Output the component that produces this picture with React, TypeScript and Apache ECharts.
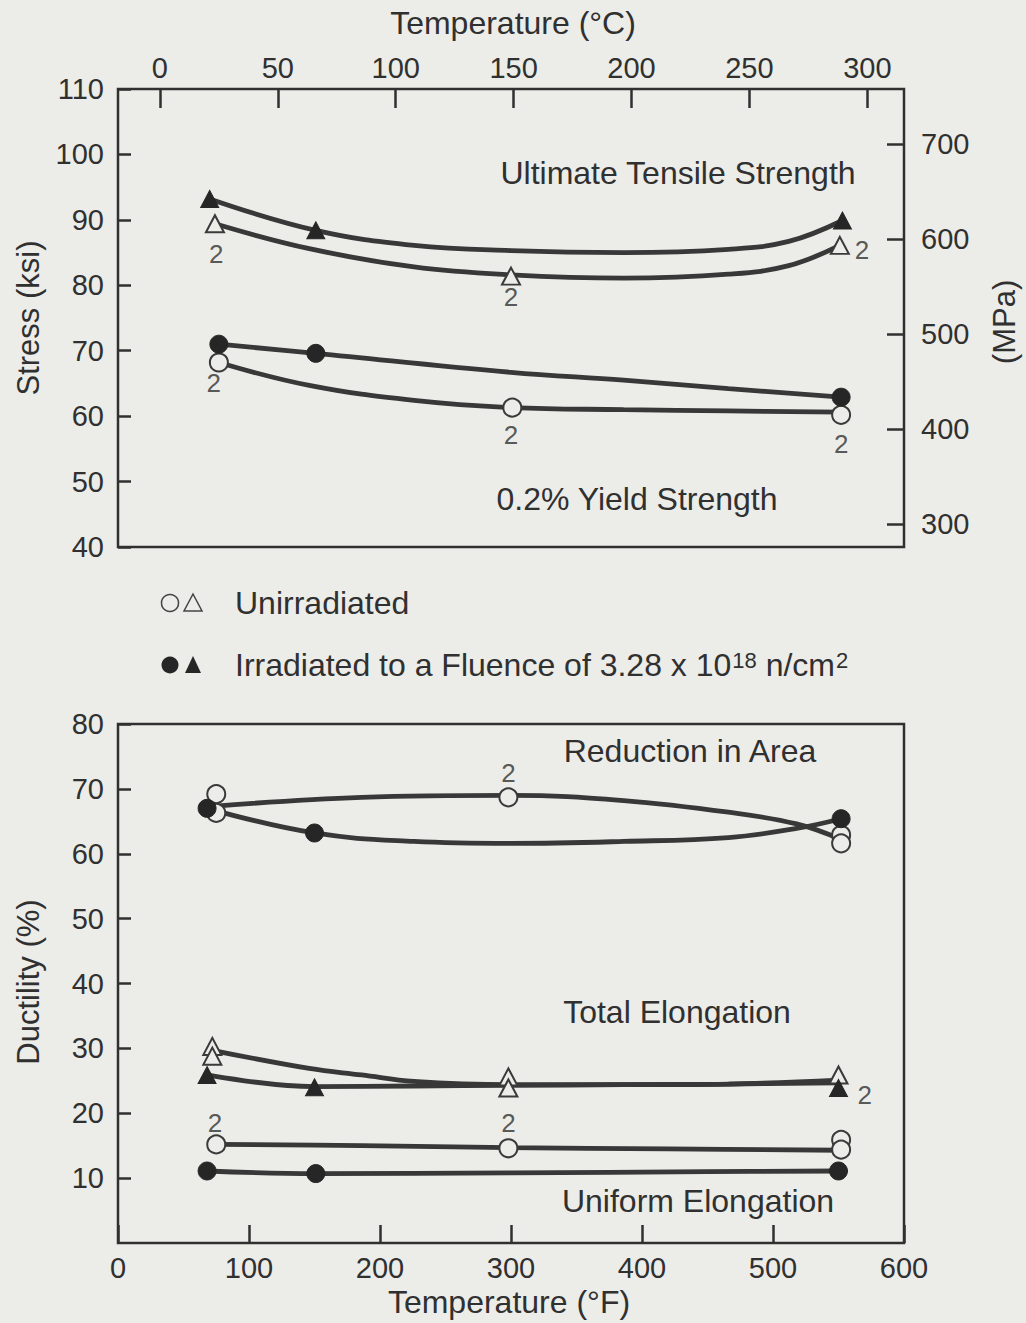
import React, { useEffect, useRef } from 'react';
import * as echarts from 'echarts';

const FONT = '"Liberation Sans", Arial, Helvetica, sans-serif';
const BG = '#ecece9';
const INK = '#303030';
const LINE = '#383838';
const FILL = '#262626';

// ---------- Axis ticks ----------
const degCTicks = [0, 50, 100, 150, 200, 250, 300];
const mpaTicks = [300, 400, 500, 600, 700];
const KSI_TO_MPA = 6.894757;

// ---------- Top panel: stress (ksi) vs temperature (°F) ----------
// Ultimate tensile strength, irradiated (filled triangles)
const utsIrrF = [70, 151, 553];
const utsIrrKsi = [93.2, 88.4, 89.9];
const utsIrrFitF = [70, 151, 226, 300, 386, 466, 512, 553];
const utsIrrFitKsi = [93.2, 88.4, 86.1, 85.3, 85.0, 85.5, 86.7, 89.9];
// Ultimate tensile strength, unirradiated (open triangles)
const utsUnF = [74, 300, 551];
const utsUnKsi = [89.4, 81.4, 86.1];
const utsUnFitF = [74, 146, 226, 300, 386, 466, 512, 551];
const utsUnFitKsi = [89.4, 85.6, 82.8, 81.6, 81.1, 81.7, 83.0, 86.1];
// 0.2% yield strength, irradiated (filled circles)
const ysIrrF = [77, 151, 552];
const ysIrrKsi = [71.0, 69.6, 62.9];
const ysIrrFitF = [77, 151, 300, 386, 466, 552];
const ysIrrFitKsi = [71.0, 69.6, 66.7, 65.5, 64.2, 62.9];
// 0.2% yield strength, unirradiated (open circles)
const ysUnF = [77, 301, 552];
const ysUnKsi = [68.2, 61.3, 60.2];
const ysUnFitF = [77, 146, 226, 301, 386, 466, 552];
const ysUnFitKsi = [68.2, 64.7, 62.4, 61.3, 61.0, 60.8, 60.6];
// "2" (duplicate specimen) notes
const topNoteF = [75, 300, 568, 73, 300, 552];
const topNoteKsi = [84.8, 78.2, 85.4, 65.0, 57.1, 55.8];

// ---------- Bottom panel: ductility (%) vs temperature (°F) ----------
// Reduction in area
const raIrrF = [68, 150, 552];
const raIrr = [67.0, 63.2, 65.4];
const raIrrFitF = [68, 150, 226, 300, 386, 466, 518, 552];
const raIrrFit = [67.0, 63.2, 61.9, 61.6, 61.9, 62.5, 63.9, 65.4];
const raUnF = [75, 75, 298, 552, 552];
const raUn = [69.2, 66.3, 68.7, 62.9, 61.6];
const raUnFitF = [72, 186, 300, 386, 466, 518, 552];
const raUnFit = [67.3, 68.7, 69.0, 68.2, 66.4, 64.6, 62.2];
// Total elongation
const teIrrF = [68, 150, 550];
const teIrr = [25.9, 24.0, 23.9];
const teIrrFitF = [68, 150, 226, 300, 386, 466, 550];
const teIrrFit = [25.9, 24.1, 24.2, 24.3, 24.4, 24.5, 24.7];
const teUnF = [72, 72, 298, 298, 550];
const teUn = [30.3, 28.8, 25.6, 23.9, 25.9];
const teUnFitF = [72, 146, 186, 226, 300, 386, 466, 550];
const teUnFit = [29.7, 26.9, 25.9, 24.9, 24.4, 24.4, 24.5, 25.1];
// Uniform elongation
const ueUnF = [75, 298, 552, 552];
const ueUn = [15.2, 14.6, 15.9, 14.4];
const ueUnFitF = [75, 186, 298, 420, 552];
const ueUnFit = [15.2, 15.0, 14.7, 14.5, 14.3];
const ueIrrF = [68, 151, 550];
const ueIrr = [11.1, 10.7, 11.1];
const ueIrrFitF = [68, 151, 300, 450, 550];
const ueIrrFit = [11.1, 10.7, 10.8, 11.0, 11.1];
// "2" notes
const botNoteF = [298, 74, 298, 570];
const botNoteVal = [72.4, 18.45, 18.45, 22.8];

const zip = (xs: number[], ys: number[]) => xs.map((x, i) => [x, ys[i]]);

type Panel = 'top' | 'bottom';
const axes = (p: Panel) =>
  p === 'top' ? { xAxisIndex: 0, yAxisIndex: 0 } : { xAxisIndex: 2, yAxisIndex: 2 };

const fit = (p: Panel, xs: number[], ys: number[]) => ({
  type: 'line',
  ...axes(p),
  data: zip(xs, ys),
  smooth: 0.4,
  showSymbol: false,
  symbol: 'none',
  silent: true,
  lineStyle: { color: LINE, width: 4.8 },
  z: 2,
});

const marks = (p: Panel, xs: number[], ys: number[], shape: 'circle' | 'triangle', filled: boolean) => ({
  type: 'scatter',
  ...axes(p),
  data: zip(xs, ys),
  symbol: shape,
  symbolSize: shape === 'circle' ? 18 : [18, 17],
  silent: true,
  itemStyle: filled
    ? { color: FILL, borderColor: FILL, borderWidth: 1, opacity: 1 }
    : { color: BG, borderColor: '#3a3a3a', borderWidth: 2, opacity: 1 },
  z: filled ? 4 : 3,
});

const notes = (p: Panel, xs: number[], ys: number[]) => ({
  type: 'scatter',
  ...axes(p),
  data: zip(xs, ys),
  symbolSize: 1,
  silent: true,
  itemStyle: { color: 'rgba(0,0,0,0)' },
  label: {
    show: true,
    position: 'inside',
    formatter: '2',
    color: INK,
    fontSize: 26,
    fontFamily: FONT,
  },
  z: 5,
});

const txt = (text: string, x: number, y: number, extra: any = {}) => ({
  type: 'text',
  x,
  y,
  rotation: extra.rotation || 0,
  style: {
    text,
    x: 0,
    y: 0,
    fill: INK,
    font: `${extra.size || 32}px ${FONT}`,
    textAlign: extra.align || 'center',
    textVerticalAlign: 'middle',
  },
  z: 10,
});

const tickStyle = { color: INK, width: 2.5 };
const labelBase = { color: INK, fontSize: 29, fontFamily: FONT };
const noLine = { show: false, onZero: false };

export default function App() {
  const ref = useRef<HTMLDivElement>(null);

  useEffect(() => {
    const chart = echarts.init(ref.current!, null, { renderer: 'svg' });
    const option: any = {
      animation: false,
      backgroundColor: BG,
      textStyle: { fontFamily: FONT },
      grid: [
        { left: 118, top: 89, width: 786, height: 458, show: true, borderColor: INK, borderWidth: 2.5, backgroundColor: 'transparent' },
        { left: 118, top: 724, width: 786, height: 519, show: true, borderColor: INK, borderWidth: 2.5, backgroundColor: 'transparent' },
      ],
      xAxis: [
        { type: 'value', gridIndex: 0, min: 0, max: 600, show: false, axisLine: noLine },
        {
          type: 'value',
          gridIndex: 0,
          position: 'top',
          min: ((0 - 32) * 5) / 9,
          max: ((600 - 32) * 5) / 9,
          axisLine: noLine,
          splitLine: { show: false },
          axisTick: { show: true, inside: true, length: 19, lineStyle: tickStyle, customValues: degCTicks },
          axisLabel: { ...labelBase, margin: 7, customValues: degCTicks },
        },
        {
          type: 'value',
          gridIndex: 1,
          position: 'bottom',
          min: 0,
          max: 600,
          interval: 100,
          axisLine: noLine,
          splitLine: { show: false },
          axisTick: { show: true, inside: true, length: 18, lineStyle: tickStyle },
          axisLabel: { ...labelBase, margin: 10 },
        },
      ],
      yAxis: [
        {
          type: 'value',
          gridIndex: 0,
          position: 'left',
          min: 40,
          max: 110,
          interval: 10,
          axisLine: noLine,
          splitLine: { show: false },
          axisTick: { show: true, inside: true, length: 13, lineStyle: tickStyle },
          axisLabel: { ...labelBase, margin: 14 },
        },
        {
          type: 'value',
          gridIndex: 0,
          position: 'right',
          min: 40 * KSI_TO_MPA,
          max: 110 * KSI_TO_MPA,
          axisLine: noLine,
          splitLine: { show: false },
          axisTick: { show: true, inside: true, length: 17, lineStyle: tickStyle, customValues: mpaTicks },
          axisLabel: { ...labelBase, margin: 17, customValues: mpaTicks },
        },
        {
          type: 'value',
          gridIndex: 1,
          position: 'left',
          min: 0,
          max: 80,
          interval: 10,
          axisLine: noLine,
          splitLine: { show: false },
          axisTick: { show: true, inside: true, length: 13, lineStyle: tickStyle },
          axisLabel: { ...labelBase, margin: 14, showMinLabel: false },
        },
      ],
      series: [
        fit('top', utsIrrFitF, utsIrrFitKsi),
        fit('top', utsUnFitF, utsUnFitKsi),
        fit('top', ysIrrFitF, ysIrrFitKsi),
        fit('top', ysUnFitF, ysUnFitKsi),
        marks('top', utsUnF, utsUnKsi, 'triangle', false),
        marks('top', utsIrrF, utsIrrKsi, 'triangle', true),
        marks('top', ysUnF, ysUnKsi, 'circle', false),
        marks('top', ysIrrF, ysIrrKsi, 'circle', true),
        notes('top', topNoteF, topNoteKsi),

        fit('bottom', raIrrFitF, raIrrFit),
        fit('bottom', raUnFitF, raUnFit),
        fit('bottom', teIrrFitF, teIrrFit),
        fit('bottom', teUnFitF, teUnFit),
        fit('bottom', ueUnFitF, ueUnFit),
        fit('bottom', ueIrrFitF, ueIrrFit),
        marks('bottom', raUnF, raUn, 'circle', false),
        marks('bottom', raIrrF, raIrr, 'circle', true),
        marks('bottom', teUnF, teUn, 'triangle', false),
        marks('bottom', teIrrF, teIrr, 'triangle', true),
        marks('bottom', ueUnF, ueUn, 'circle', false),
        marks('bottom', ueIrrF, ueIrr, 'circle', true),
        notes('bottom', botNoteF, botNoteVal),
      ],
      graphic: [
        txt('Temperature (°C)', 513, 23),
        txt('Temperature (°F)', 509, 1302),
        txt('Stress (ksi)', 28, 318, { rotation: Math.PI / 2, size: 31 }),
        txt('(MPa)', 1004, 322, { rotation: Math.PI / 2, size: 31 }),
        txt('Ductility (%)', 28, 982, { rotation: Math.PI / 2, size: 31 }),
        txt('Ultimate Tensile Strength', 678, 173),
        txt('0.2% Yield Strength', 637, 499),
        txt('Reduction in Area', 690, 751),
        txt('Total Elongation', 677, 1012),
        txt('Uniform Elongation', 698, 1201),
        // legend
        { type: 'circle', shape: { cx: 170, cy: 603, r: 8.5 }, style: { fill: BG, stroke: '#444', lineWidth: 1.5 }, z: 10 },
        { type: 'polygon', shape: { points: [[184, 611], [202, 611], [193, 594]] }, style: { fill: BG, stroke: '#444', lineWidth: 1.5 }, z: 10 },
        txt('Unirradiated', 235, 603, { align: 'left' }),
        { type: 'circle', shape: { cx: 170, cy: 665, r: 8.5 }, style: { fill: FILL }, z: 10 },
        { type: 'polygon', shape: { points: [[185, 673], [201, 673], [193, 656]] }, style: { fill: FILL }, z: 10 },
        {
          type: 'text',
          x: 235,
          y: 665,
          z: 10,
          style: {
            text: '{n|Irradiated to a Fluence of 3.28 x 10}{s|18}{n| n/cm}{s|2}',
            x: 0,
            y: 0,
            fill: INK,
            font: `32px ${FONT}`,
            textAlign: 'left',
            textVerticalAlign: 'middle',
            rich: {
              n: { fontSize: 32, fontFamily: FONT, color: INK, lineHeight: 32, verticalAlign: 'bottom' },
              s: { fontSize: 22, fontFamily: FONT, color: INK, lineHeight: 22, verticalAlign: 'top', padding: [0, 0, 19, 1] },
            },
          },
        },
      ],
    };
    chart.setOption(option);
    return () => chart.dispose();
  }, []);

  return (
    <div
      ref={ref}
      style={{ position: 'fixed', left: 0, top: 0, width: 1026, height: 1323 }}
    />
  );
}
